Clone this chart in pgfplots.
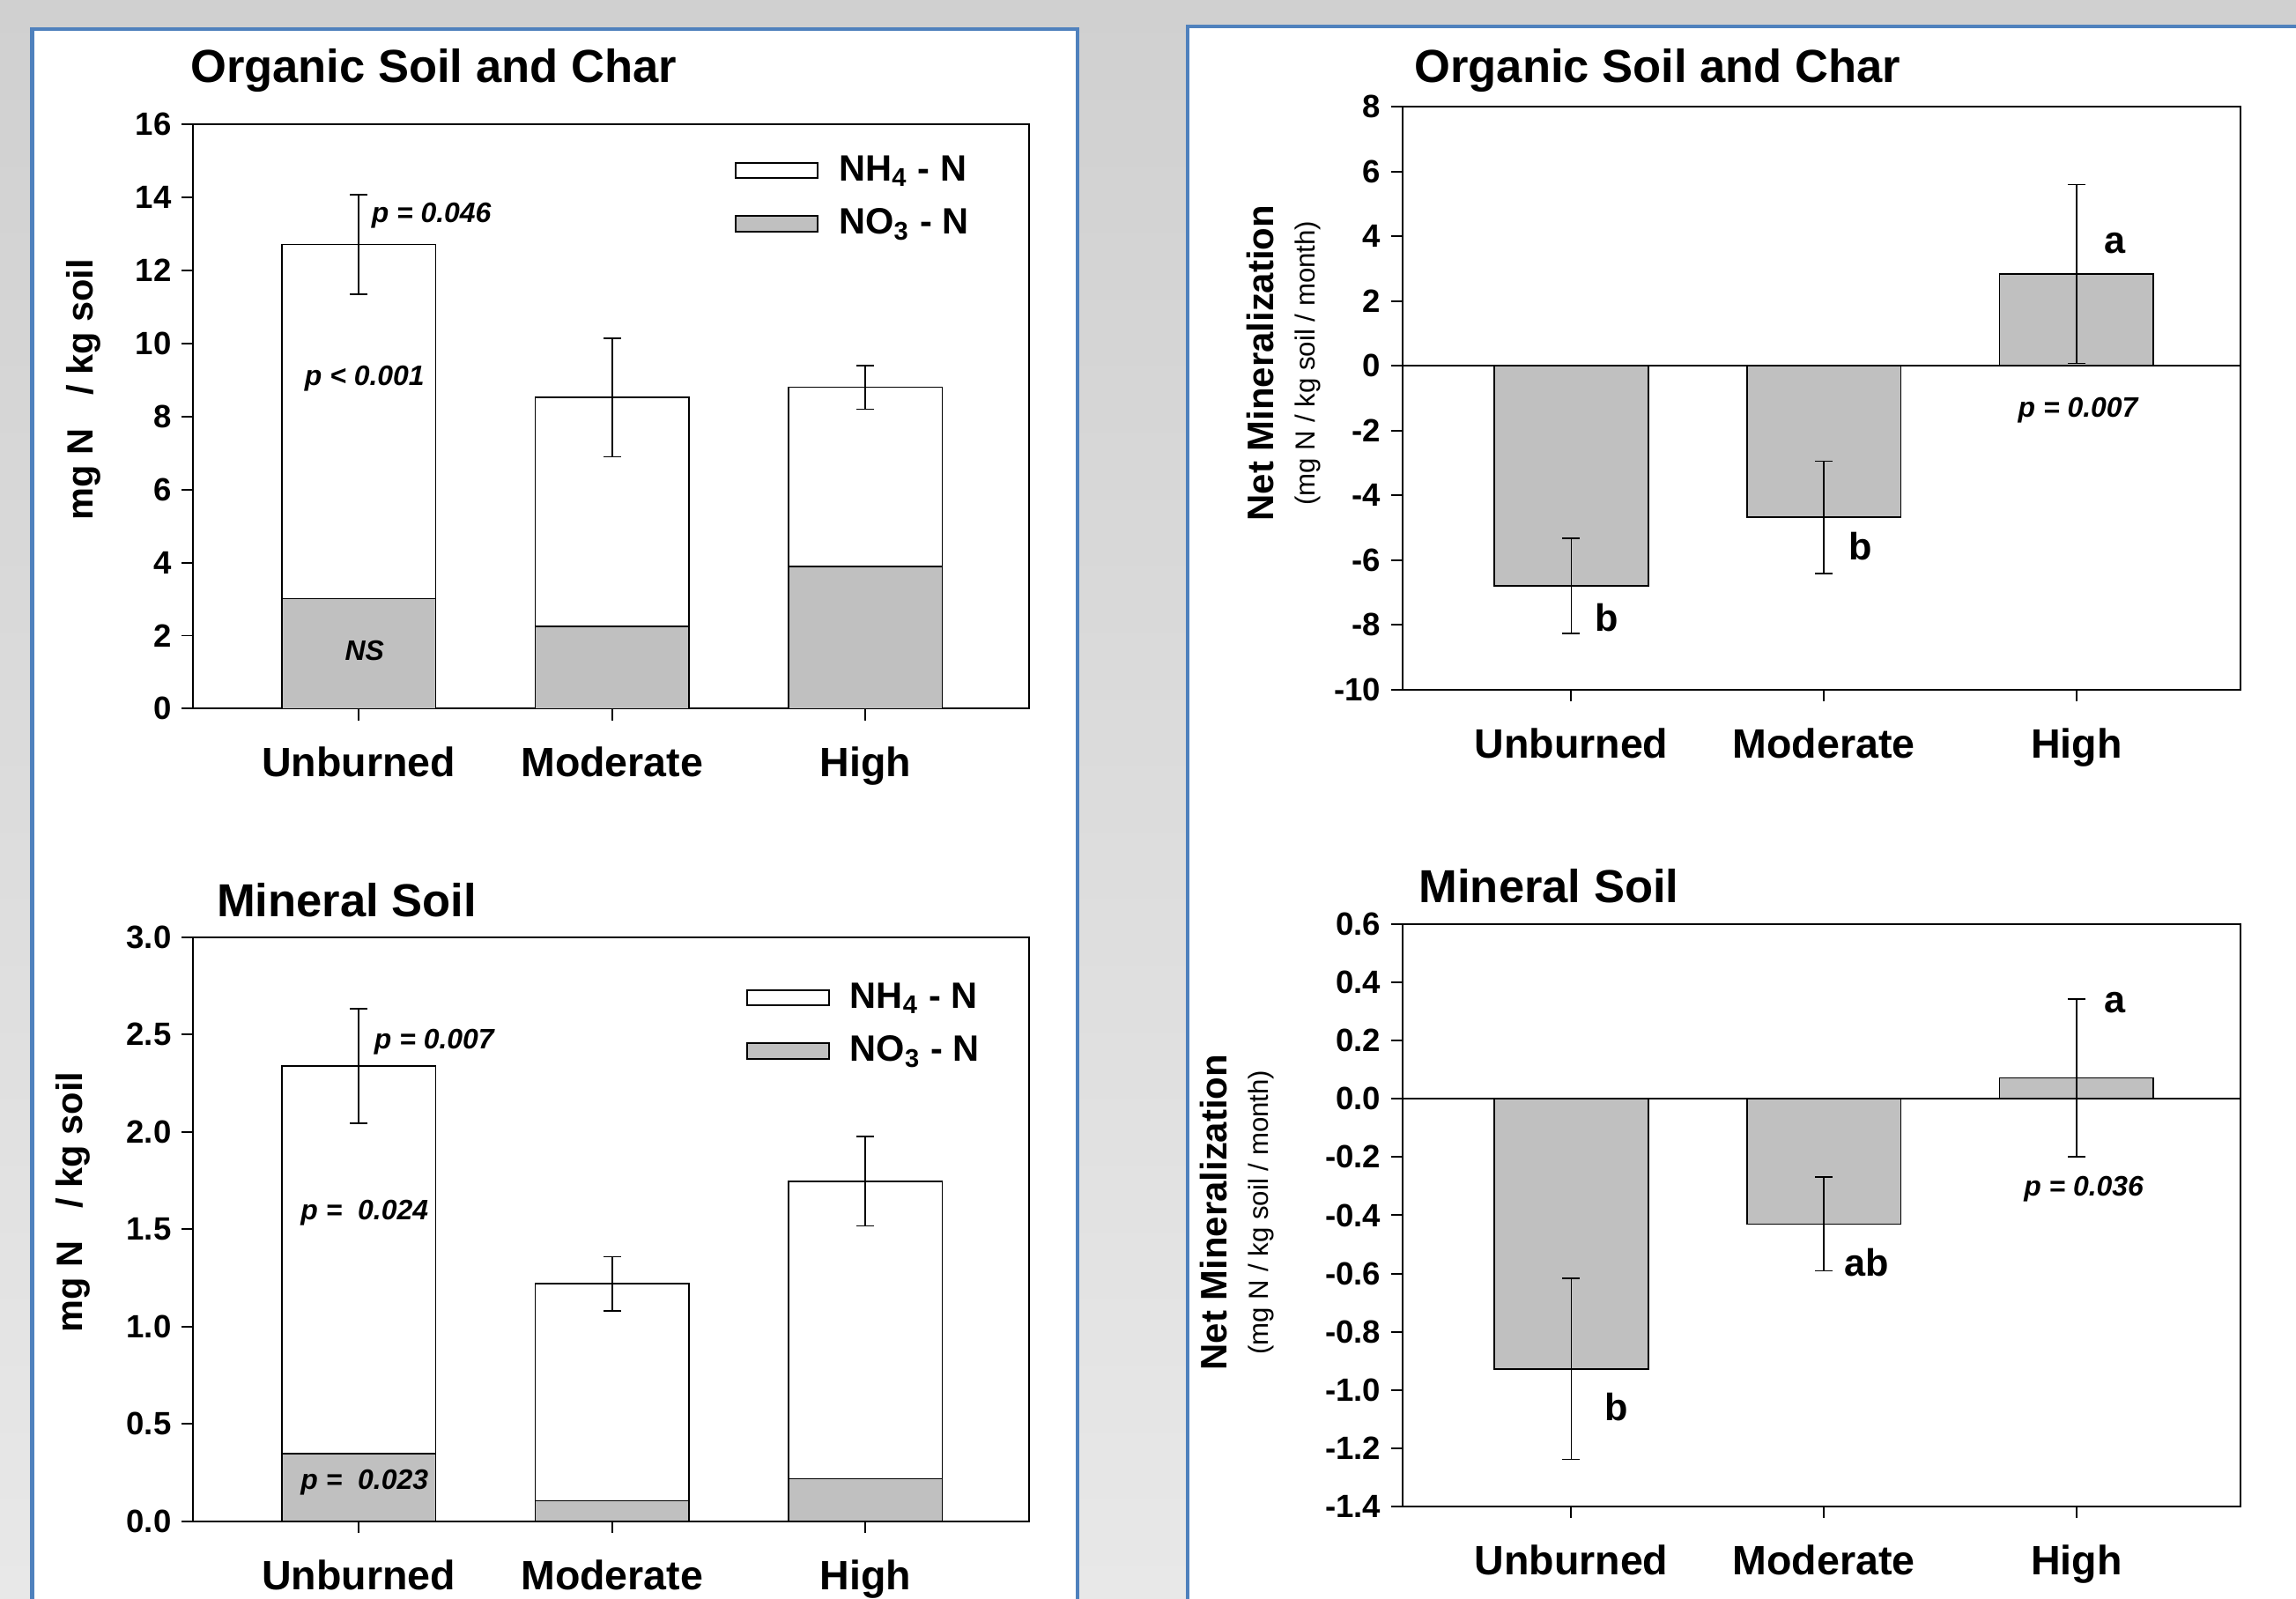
\documentclass[border=0pt]{standalone}
\usepackage{pgfplots}
\pgfplotsset{compat=1.18}
\usepackage{fontspec}
\setmainfont{Liberation Sans}
\definecolor{barg}{RGB}{192,192,192}
\definecolor{panelblue}{RGB}{79,129,189}
\definecolor{bgtop}{RGB}{208,208,208}
\definecolor{bgbot}{RGB}{232,232,232}
\newcommand{\fs}[1]{\fontsize{#1}{#1}\selectfont}
\tikzset{pv/.style={font=\fs{9.6}\bfseries\itshape}}
\pgfplotsset{
  base/.style={
    scale only axis, anchor=south west,
    axis line style={line width=0.6pt},
    tick style={black, line width=0.6pt},
    major tick length=4pt,
    tick align=outside, tick pos=left,
    xtick={0,1,2}, xticklabels={Unburned,Moderate,High},
    xticklabel style={font=\fs{14}\bfseries, anchor=base, yshift=-19.3pt},
    yticklabel style={font=\fs{11}\bfseries},
    /pgf/number format/assume math mode=true,
    ybar, bar shift=0pt, bar width=52.5pt,
    error bars/y dir=both, error bars/y explicit,
    error bars/error bar style={black, line width=0.5pt},
    error bars/error mark options={black, line width=0.5pt, mark size=3pt, rotate=90},
  },
  leg/.style={
    legend cell align=left,
    legend image code/.code={\draw[##1, line width=0.6pt] (0pt,-2.6pt) rectangle (28pt,2.6pt);},
    legend style={draw=none, fill=none, font=\fs{12.5}\bfseries, row sep=4pt,
      /tikz/every odd column/.append style={column sep=5pt}},
  },
}
\begin{document}
\begin{tikzpicture}
\useasboundingbox (0pt,0pt) rectangle (784pt,546pt);
\shade[top color=bgtop, bottom color=bgbot] (0pt,0pt) rectangle (784pt,546pt);
\draw[panelblue, line width=1.3pt, fill=white] (11pt,-5pt) rectangle (368pt,536pt);
\draw[panelblue, line width=1.3pt, fill=white] (405.5pt,-5pt) rectangle (795pt,537pt);

% ---------- top left ----------
\begin{axis}[base, leg, at={(66pt,304pt)}, width=285.5pt, height=199.5pt,
  xmin=-0.653, xmax=2.647, ymin=0, ymax=16, ytick={0,2,...,16},
  legend style={at={(rel axis cs:0.6365,0.9675)}, anchor=north west}]
\addplot[fill=white, draw=black, line width=0.5pt] coordinates {
  (0,12.71) +- (0,1.36)
  (1,8.52) +- (0,1.62)
  (2,8.80) +- (0,0.60)
};
\addlegendentry{NH\textsubscript{4} - N}
\addplot[fill=barg, draw=black, line width=0.5pt, error bars/y dir=none] coordinates {
  (0,3.01) (1,2.25) (2,3.89)
};
\addlegendentry{NO\textsubscript{3} - N}
\node[pv, anchor=west] at (axis cs:0.01,13.5) {p = 0.046};
\node[pv] at (axis cs:0.023,9.05) {p < 0.001};
\node[pv] at (axis cs:0.023,1.60) {NS};
\end{axis}

% ---------- bottom left ----------
\begin{axis}[base, leg, at={(66pt,26.5pt)}, width=285.5pt, height=199.5pt,
  xmin=-0.653, xmax=2.647, ymin=0, ymax=3, ytick={0,0.5,...,3.0},
  yticklabel style={/pgf/number format/.cd, fixed, fixed zerofill, precision=1},
  legend style={at={(rel axis cs:0.6497,0.9425)}, anchor=north west}]
\addplot[fill=white, draw=black, line width=0.5pt] coordinates {
  (0,2.338) +- (0,0.293)
  (1,1.220) +- (0,0.139)
  (2,1.746) +- (0,0.229)
};
\addlegendentry{NH\textsubscript{4} - N}
\addplot[fill=barg, draw=black, line width=0.5pt, error bars/y dir=none] coordinates {
  (0,0.346) (1,0.105) (2,0.218)
};
\addlegendentry{NO\textsubscript{3} - N}
\node[pv, anchor=west] at (axis cs:0.021,2.46) {p = 0.007};
\node[pv] at (axis cs:0.023,1.585) {p =\ \ 0.024};
\node[pv] at (axis cs:0.023,0.198) {p =\ \ 0.023};
\end{axis}

% ---------- top right ----------
\begin{axis}[base, at={(479pt,310.5pt)}, width=286pt, height=199pt,
  xmin=-0.667, xmax=2.649, ymin=-10, ymax=8, ytick={-10,-8,...,8},
  extra y ticks={0}, extra y tick labels={},
  extra y tick style={grid=major, major grid style={black, line width=0.6pt}, major tick length=0pt}]
\addplot[fill=barg, draw=black, line width=0.5pt] coordinates {
  (0,-6.80) +- (0,1.47)
  (1,-4.68) +- (0,1.74)
  (2,2.84) +- (0,2.76)
};
\node[font=\fs{13}\bfseries] at (axis cs:2.151,3.80) {a};
\node[pv] at (axis cs:2.006,-1.38) {p = 0.007};
\node[font=\fs{13}\bfseries] at (axis cs:0.139,-7.78) {b};
\node[font=\fs{13}\bfseries] at (axis cs:1.145,-5.57) {b};
\end{axis}

% ---------- bottom right ----------
\begin{axis}[base, at={(479pt,31.5pt)}, width=286pt, height=199pt,
  xmin=-0.667, xmax=2.649, ymin=-1.4, ymax=0.6,
  ytick={-1.4,-1.2,-1.0,-0.8,-0.6,-0.4,-0.2,0,0.2,0.4,0.6},
  yticklabel style={/pgf/number format/.cd, fixed, fixed zerofill, precision=1},
  extra y ticks={0}, extra y tick labels={},
  extra y tick style={grid=major, major grid style={black, line width=0.6pt}, major tick length=0pt}]
\addplot[fill=barg, draw=black, line width=0.5pt] coordinates {
  (0,-0.927) +- (0,0.311)
  (1,-0.430) +- (0,0.161)
  (2,0.072) +- (0,0.271)
};
\node[font=\fs{13}\bfseries] at (axis cs:2.151,0.329) {a};
\node[pv] at (axis cs:2.029,-0.31) {p = 0.036};
\node[font=\fs{13}\bfseries] at (axis cs:1.168,-0.561) {ab};
\node[font=\fs{13}\bfseries] at (axis cs:0.180,-1.058) {b};
\end{axis}

% ---------- titles and axis labels ----------
\node[anchor=west, font=\fs{15.8}\bfseries] at (61.5pt,522pt) {Organic Soil and Char};
\node[anchor=west, font=\fs{15.8}\bfseries] at (479.5pt,522pt) {Organic Soil and Char};
\node[anchor=west, font=\fs{15.8}\bfseries] at (70.5pt,238.5pt) {Mineral Soil};
\node[anchor=west, font=\fs{15.8}\bfseries] at (481pt,243.5pt) {Mineral Soil};
\node[rotate=90, font=\fs{12.5}\bfseries] at (28.5pt,413pt) {mg N\hspace{0.9em}/ kg soil};
\node[rotate=90, font=\fs{12.5}\bfseries] at (25pt,135.5pt) {mg N\hspace{0.9em}/ kg soil};
\node[rotate=90, font=\fs{12.6}\bfseries] at (430.5pt,422pt) {Net Mineralization};
\node[rotate=90, font=\fs{9.4}] at (446.5pt,422pt) {(mg N / kg soil / month)};
\node[rotate=90, font=\fs{12.6}\bfseries] at (414.5pt,132pt) {Net Mineralization};
\node[rotate=90, font=\fs{9.4}] at (430.5pt,132pt) {(mg N / kg soil / month)};
\end{tikzpicture}
\end{document}
